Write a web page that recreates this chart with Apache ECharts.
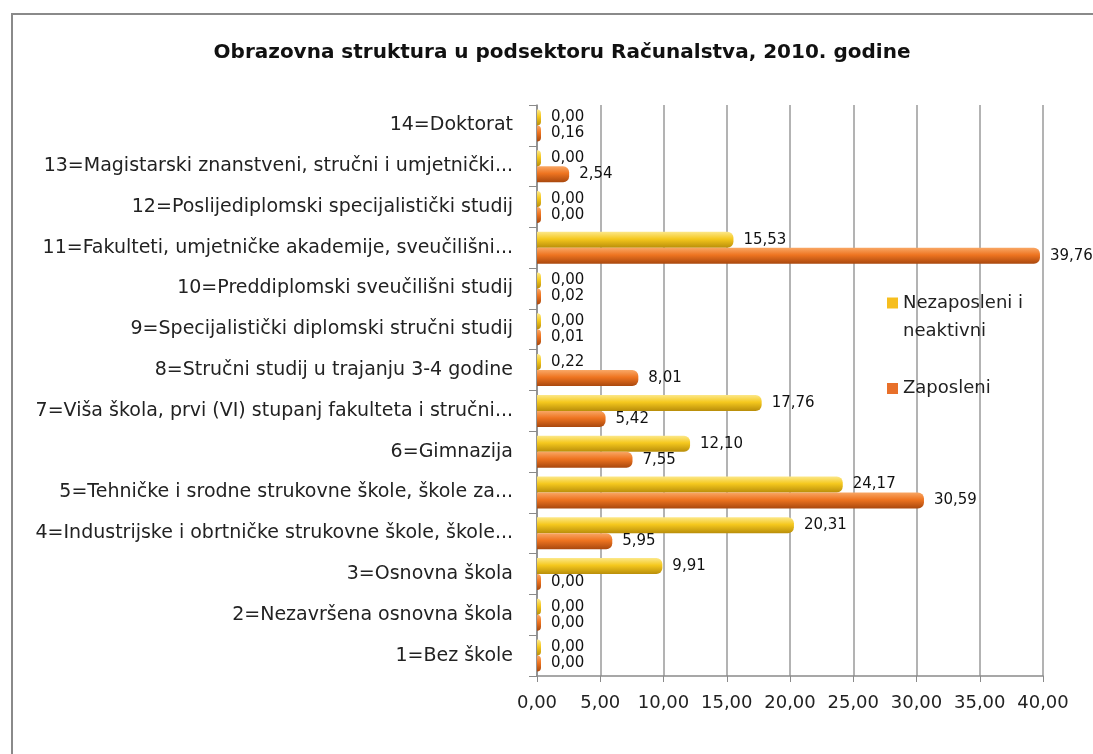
<!DOCTYPE html>
<html>
<head>
<meta charset="utf-8">
<script src="https://cdn.jsdelivr.net/npm/echarts@6/dist/echarts.min.js"></script>
<style>
html, body { margin: 0; padding: 0; background: #fff; }
#chart { width: 1093px; height: 754px; }
</style>
</head>
<body>
<div id="chart"></div>
<script>
var categories = [
    '1=Bez škole',
    '2=Nezavršena osnovna škola',
    '3=Osnovna škola',
    '4=Industrijske i obrtničke strukovne škole, škole...',
    '5=Tehničke i srodne strukovne škole, škole za...',
    '6=Gimnazija',
    '7=Viša škola, prvi (VI) stupanj fakulteta i stručni...',
    '8=Stručni studij u trajanju 3-4 godine',
    '9=Specijalistički diplomski stručni studij',
    '10=Preddiplomski sveučilišni studij',
    '11=Fakulteti, umjetničke akademije, sveučilišni...',
    '12=Poslijediplomski specijalistički studij',
    '13=Magistarski znanstveni, stručni i umjetnički...',
    '14=Doktorat'
];
var nezaposleni = [0.00, 0.00, 9.91, 20.31, 24.17, 12.10, 17.76, 0.22, 0.00, 0.00, 15.53, 0.00, 0.00, 0.00];
var zaposleni = [0.00, 0.00, 0.00, 5.95, 30.59, 7.55, 5.42, 8.01, 0.01, 0.02, 39.76, 0.00, 2.54, 0.16];

var fontFam = '"DejaVu Sans", sans-serif';

function fmt(v) {
    return v.toFixed(2).replace('.', ',');
}

function cyl(light, mid, dark) {
    return new echarts.graphic.LinearGradient(0, 0, 0, 1, [
        { offset: 0, color: light },
        { offset: 0.45, color: mid },
        { offset: 1, color: dark }
    ]);
}

var chart = echarts.init(document.getElementById('chart'));

var option = {
    animation: false,
    title: {
        text: 'Obrazovna struktura u podsektoru Računalstva, 2010. godine',
        left: 557,
        top: 38,
        textAlign: 'center',
        textStyle: { fontFamily: fontFam, fontSize: 20, fontWeight: 'bold', color: '#111' }
    },
    graphic: [{
        type: 'rect',
        shape: { x: 12, y: 14, width: 1200, height: 900 },
        style: { fill: 'none', stroke: '#8a8a8a', lineWidth: 2 },
        silent: true
    }],
    legend: {
        orient: 'vertical',
        left: 882,
        top: 284,
        itemGap: 24,
        itemWidth: 11,
        itemHeight: 39,
        itemStyle: { borderWidth: 0 },
        textStyle: { fontFamily: fontFam, fontSize: 18, color: '#222', lineHeight: 28 },
        data: [
            // square sits on the first text line
            { name: 'Nezaposleni i\nneaktivni', icon: 'path://M0,0L11,0L11,11L0,11Z M0,39', itemStyle: { color: '#F6BE1E' } },
            { name: 'Zaposleni', icon: 'path://M0,0 M0,14L11,14L11,25L0,25Z M0,39', itemStyle: { color: '#E8702A' } }
        ]
    },
    grid: {
        left: 537,
        right: 50,
        top: 105,
        bottom: 78
    },
    xAxis: {
        type: 'value',
        min: 0,
        max: 40,
        interval: 5,
        axisLine: { show: true, lineStyle: { color: '#8a8a8a', width: 1.5 } },
        axisTick: { show: true, length: 6, lineStyle: { color: '#8a8a8a' } },
        splitLine: { show: true, lineStyle: { color: '#9a9a9a', width: 1.5 } },
        axisLabel: {
            fontFamily: fontFam, fontSize: 18, color: '#222', margin: 18,
            formatter: function (v) { return fmt(v); }
        }
    },
    yAxis: {
        type: 'category',
        data: categories,
        axisLine: { show: true, lineStyle: { color: '#8a8a8a', width: 1.5 } },
        axisTick: { show: true, length: 8, lineStyle: { color: '#8a8a8a' } },
        axisLabel: { fontFamily: fontFam, fontSize: 19, color: '#222', margin: 24 }
    },
    series: [{
        name: 'Nezaposleni i\nneaktivni',
        type: 'bar',
        data: nezaposleni,
        barWidth: 16,
        barGap: '0%',
        barMinHeight: 4,
        itemStyle: {
            color: cyl('#FCE88A', '#F5C81E', '#B98E0A'),
            borderRadius: [0, 6, 6, 0]
        },
        label: {
            show: true, position: 'right', distance: 10,
            fontFamily: fontFam, fontSize: 15, color: '#111',
            formatter: function (p) { return fmt(p.value); }
        }
    }, {
        name: 'Zaposleni',
        type: 'bar',
        data: zaposleni,
        barWidth: 16,
        barGap: '0%',
        barMinHeight: 4,
        itemStyle: {
            color: cyl('#F9A765', '#EE7420', '#A9480E'),
            borderRadius: [0, 6, 6, 0]
        },
        label: {
            show: true, position: 'right', distance: 10,
            fontFamily: fontFam, fontSize: 15, color: '#111',
            formatter: function (p) { return fmt(p.value); }
        }
    }]
};

chart.setOption(option);
</script>
</body>
</html>
